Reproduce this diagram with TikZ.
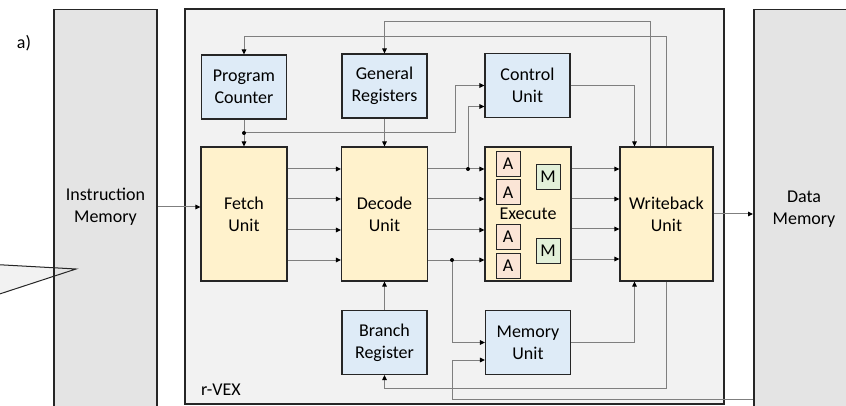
\documentclass[tikz,border=0pt]{standalone}
\usepackage{fontspec}
\setmainfont{Carlito}
\usetikzlibrary{arrows.meta, positioning}
\definecolor{memgray}{RGB}{228,228,228}
\definecolor{coregray}{RGB}{242,242,242}
\definecolor{regblue}{RGB}{222,235,247}
\definecolor{stageyellow}{RGB}{255,242,204}
\definecolor{alupink}{RGB}{251,229,214}
\definecolor{mulgreen}{RGB}{226,240,217}
\definecolor{wiregray}{RGB}{127,127,127}
\definecolor{edgeblack}{RGB}{38,38,38}

\begin{document}
\begin{tikzpicture}[x=1pt, y=-1pt,
		font=\fontsize{18}{22}\selectfont,
		regbox/.style={draw=edgeblack, fill=regblue, line width=1.1pt,
			minimum width=85pt, minimum height=64pt, inner sep=0pt, align=center},
		stagebox/.style={draw=edgeblack, fill=stageyellow, line width=1.1pt,
			minimum width=86pt, minimum height=134pt, inner sep=0pt, align=center},
		membox/.style={draw=edgeblack, fill=memgray, line width=1.5pt,
			minimum width=103pt, minimum height=430pt, inner sep=0pt},
		alubox/.style={draw=edgeblack, fill=alupink, line width=0.9pt,
			minimum width=24pt, minimum height=25pt, inner sep=0pt},
		mulbox/.style={draw=edgeblack, fill=mulgreen, line width=0.9pt,
			minimum width=24pt, minimum height=25pt, inner sep=0pt},
		wire/.style={-{Triangle[length=5pt, width=4.5pt, color=black]}, draw=wiregray, line width=1pt}
	]
		\path[use as bounding box] (0,0) rectangle (846,406);
		\clip (0,0) rectangle (846,406);

		\node (tag) at (24,43) {a)};

		% memories and core
		\fill[coregray] (-5,264.5) -- (76,269) -- (-5,295.5) -- cycle;
		\node[membox, anchor=north] (imem) at (105.5,9) {};
		\draw[edgeblack, line width=1pt] (-5,264.5) -- (76,269) -- (-5,295.5);
		\node[align=center] (imemname) at (105.5,207) {Instruction\\Memory};
		\node[membox, anchor=north west] (dmem) at (753,9) {};
		\node[align=center] (dmemname) at (804,209) {Data\\Memory};
		\node[draw=edgeblack, fill=coregray, line width=1.5pt, minimum width=539pt,
			minimum height=395pt, inner sep=0pt] (core) at (454.5,206.5) {};
		\node[anchor=west, inner sep=0pt] (corename) at (201,390) {r-VEX};

		% units
		\node[regbox] (pc) at (244,87) {Program\\Counter};
		\node[regbox] (gr) at (384.5,86) {General\\Registers};
		\node[regbox] (ctrl) at (527.5,85.5) {Control\\Unit};
		\node[stagebox] (fetch) at (244,214) {Fetch\\Unit};
		\node[stagebox] (decode) at (384.5,214) {Decode\\Unit};
		\node[stagebox] (exec) at (528,214) {Execute};
		\node[stagebox, minimum width=93pt] (wb) at (666.5,214) {Writeback\\Unit};
		\node[regbox] (br) at (384.5,342.5) {Branch\\Register};
		\node[regbox] (mem) at (528,342.5) {Memory\\Unit};

		% lanes of the execute stage
		\node[alubox] (alu1) at (508,163.5) {A};
		\node[alubox, below=3pt of alu1] (alu2) {A};
		\node[alubox] (alu3) at (508,237) {A};
		\node[alubox, below=3pt of alu3] (alu4) {A};
		\node[mulbox] (mul1) at (548,177) {M};
		\node[mulbox] (mul2) at (548,250.5) {M};

		\coordinate (j0) at (244,133);
		\coordinate (j1) at (468,169);
		\coordinate (j2) at (452,260);
		\coordinate (fin) at ([yshift=7pt]fetch.west);
		\coordinate (dmlow) at (753,399);

		\draw[wire] (fin -| imem.east) -- (fin);
		\draw[wire] (pc) -- (fetch);
		\draw[wire] (gr) -- (decode);
		\draw[wire] (br) -- (decode);

		\draw[wire] ([yshift=45pt]fetch.east) -- ([yshift=45pt]decode.west);
		\draw[wire] ([yshift=15pt]fetch.east) -- ([yshift=15pt]decode.west);
		\draw[wire] ([yshift=-16pt]fetch.east) -- ([yshift=-16pt]decode.west);
		\draw[wire] ([yshift=-46pt]fetch.east) -- ([yshift=-46pt]decode.west);
		\draw[wire] ([yshift=45pt]decode.east) -- ([yshift=45pt]exec.west);
		\draw[wire] ([yshift=15pt]decode.east) -- ([yshift=15pt]exec.west);
		\draw[wire] ([yshift=-16pt]decode.east) -- ([yshift=-16pt]exec.west);
		\draw[wire] ([yshift=-46pt]decode.east) -- ([yshift=-46pt]exec.west);
		\draw[wire] ([yshift=45pt]exec.east) -- ([yshift=45pt]wb.west);
		\draw[wire] ([yshift=15pt]exec.east) -- ([yshift=15pt]wb.west);
		\draw[wire] ([yshift=-15pt]exec.east) -- ([yshift=-15pt]wb.west);
		\draw[wire] ([yshift=-45pt]exec.east) -- ([yshift=-45pt]wb.west);

		\draw[wire] (j0) -- (455,133) |- (ctrl.west);
		\draw[wire] (j1) |- ([yshift=-21pt]ctrl.west);
		\draw[wire] (j2) |- (mem.west);
		\draw[wire] (dmlow) -- (452,399) |- ([yshift=-17.5pt]mem.west);
		\draw[wire] (ctrl.east) -| ([xshift=-32pt]wb.north);
		\draw[wire] (mem.east) -| ([xshift=-32pt]wb.south);
		\draw[wire] ([xshift=-16.5pt]wb.north) |- (384.5,22) -- (gr.north);
		\draw[wire] (wb.north) |- (244,37) -- (pc.north);
		\draw[wire] (wb.south) |- (384.5,388) -- (br.south);
		\draw[wire] (wb.east) -- (wb.east -| dmem.west);

		\fill (j0) circle (2pt);
		\fill (j1) circle (2pt);
		\fill (j2) circle (2pt);
	\end{tikzpicture}
\end{document}
